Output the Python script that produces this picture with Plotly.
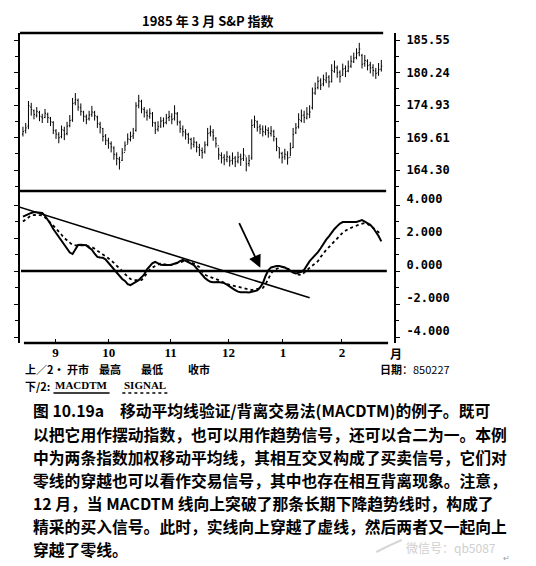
import plotly.graph_objects as go

# ---- data ----
days = list(range(131))

opens = [170.2, 170.8, 171.5, 174.6, 174.0, 173.2, 173.7, 173.0, 172.9, 173.4,
         172.8, 172.1, 170.7, 170.1, 169.8, 170.8, 170.3, 171.6, 172.5, 175.3,
         175.7, 174.5, 173.8, 173.0, 172.7, 173.4, 173.7, 173.0, 171.8, 171.1,
         169.9, 169.1, 168.6, 167.9, 166.8, 166.1, 165.9, 167.2, 168.5, 169.3,
         169.9, 170.8, 174.9, 175.5, 174.2, 173.7, 173.1, 173.5, 172.0, 171.0,
         171.5, 172.4, 172.1, 172.9, 173.0, 172.7, 173.5, 172.1, 171.0, 170.5,
         170.1, 169.3, 168.5, 168.8, 168.0, 167.5, 167.3, 168.5, 170.4, 170.5,
         169.5, 168.3, 166.7, 166.4, 166.0, 166.4, 165.9, 166.3, 165.8, 166.5,
         166.2, 166.6, 165.4, 166.3, 171.7, 172.2, 171.4, 171.0, 170.5, 170.8,
         170.3, 170.6, 169.4, 168.0, 167.0, 166.5, 166.8, 166.4, 168.0, 170.4,
         171.4, 172.4, 173.3, 172.8, 173.4, 174.5, 176.9, 177.8, 178.9, 178.4,
         179.0, 179.5, 178.8, 180.4, 181.0, 180.3, 179.8, 180.9, 180.5, 181.3,
         182.0, 182.7, 183.5, 183.0, 181.7, 182.1, 181.5, 181.1, 180.5, 180.2,
         180.8]
highs = [171.4, 172.0, 175.6, 175.3, 174.2, 174.6, 174.0, 173.5, 174.3, 173.7,
         173.0, 172.3, 171.0, 170.5, 171.6, 171.4, 172.2, 173.3, 176.1, 176.9,
         176.0, 175.2, 174.0, 173.4, 174.0, 174.8, 174.0, 173.2, 172.2, 171.2,
         170.2, 169.6, 169.0, 168.2, 167.2, 166.5, 167.9, 169.0, 170.3, 170.6,
         171.2, 175.4, 176.6, 175.8, 174.6, 174.2, 174.4, 173.8, 172.2, 172.3,
         173.0, 172.9, 173.5, 174.0, 173.6, 174.9, 173.8, 172.4, 171.6, 171.0,
         170.4, 169.6, 169.7, 169.0, 168.6, 168.0, 169.0, 171.2, 171.6, 171.0,
         169.7, 168.0, 167.2, 166.9, 167.4, 166.7, 167.2, 166.6, 167.3, 167.0,
         167.9, 166.4, 166.8, 172.6, 173.2, 172.4, 171.8, 171.6, 171.6, 171.3,
         171.5, 170.9, 169.6, 168.0, 167.3, 167.8, 167.4, 168.8, 171.2, 172.0,
         173.6, 174.2, 174.0, 174.6, 174.9, 177.8, 178.6, 179.6, 179.3, 179.9,
         180.3, 179.8, 181.6, 182.2, 181.4, 180.6, 181.7, 181.4, 182.2, 183.0,
         183.5, 184.2, 185.1, 183.3, 183.1, 182.4, 182.0, 181.6, 181.0, 181.8,
         182.3]
lows = [169.8, 170.3, 171.0, 173.2, 172.6, 172.9, 172.3, 172.0, 172.8, 172.0,
        171.5, 170.2, 169.4, 168.7, 169.5, 169.2, 170.0, 171.3, 172.2, 174.9,
        174.0, 173.2, 172.2, 171.8, 172.4, 173.0, 172.4, 171.2, 170.3, 169.0,
        168.4, 167.8, 167.2, 166.0, 165.1, 164.4, 165.8, 167.4, 168.6, 169.0,
        169.4, 170.6, 174.4, 173.6, 172.9, 172.4, 172.7, 171.4, 170.2, 170.6,
        171.2, 171.3, 171.8, 172.3, 171.8, 172.4, 171.6, 170.4, 169.8, 169.3,
        168.6, 167.7, 168.0, 167.2, 166.6, 166.2, 167.0, 168.2, 169.8, 169.1,
        168.0, 166.0, 165.4, 165.1, 165.6, 164.9, 165.2, 164.8, 165.4, 165.0,
        165.8, 164.1, 164.9, 166.0, 171.2, 170.6, 170.2, 169.8, 170.0, 169.6,
        169.8, 169.0, 167.4, 166.2, 165.4, 166.0, 165.2, 166.6, 167.9, 170.2,
        171.1, 172.1, 172.0, 172.6, 172.8, 174.2, 176.6, 177.5, 177.4, 178.0,
        178.5, 177.8, 178.6, 180.2, 179.4, 178.6, 179.7, 179.5, 180.3, 181.0,
        181.8, 182.4, 182.9, 180.9, 181.2, 180.6, 180.1, 179.6, 179.2, 179.7,
        180.4]
closes = [170.6, 171.2, 174.8, 174.2, 173.4, 173.9, 173.1, 172.8, 173.6, 172.9,
          172.2, 170.8, 170.2, 169.6, 170.9, 170.1, 171.5, 172.4, 175.2, 175.8,
          174.6, 173.9, 173.1, 172.6, 173.3, 173.8, 173.2, 171.9, 171.3, 169.8,
          169.2, 168.7, 168.1, 166.9, 166.2, 165.6, 167.1, 168.3, 169.4, 169.8,
          170.3, 174.8, 175.6, 174.3, 173.8, 173.2, 173.6, 172.1, 170.9, 171.4,
          172.3, 172.0, 172.8, 173.1, 172.6, 173.6, 172.2, 171.1, 170.6, 170.2,
          169.4, 168.6, 168.9, 168.1, 167.6, 167.2, 168.4, 170.3, 170.6, 169.9,
          168.6, 166.8, 166.3, 166.0, 166.5, 165.8, 166.2, 165.7, 166.4, 166.1,
          166.8, 165.3, 165.9, 171.6, 172.4, 171.3, 171.0, 170.6, 170.9, 170.4,
          170.7, 169.8, 168.2, 167.1, 166.4, 166.9, 166.3, 167.8, 170.1, 171.2,
          172.6, 173.2, 172.9, 173.5, 173.8, 176.9, 177.6, 178.8, 178.2, 179.1,
          179.4, 178.7, 180.6, 181.1, 180.2, 179.6, 180.8, 180.4, 181.2, 182.1,
          182.6, 183.4, 184.1, 181.6, 182.2, 181.4, 181.0, 180.6, 180.1, 180.7,
          181.3]

macdtm = [3.30, 3.39, 3.45, 3.52, 3.58, 3.57, 3.55, 3.52, 3.35, 3.12,
          2.85, 2.55, 2.30, 2.05, 1.82, 1.60, 1.35, 1.12, 1.03, 1.30,
          1.58, 1.60, 1.58, 1.56, 1.42, 1.30, 1.05, 0.86, 0.82, 0.80,
          0.70, 0.50, 0.35, 0.15, -0.08, -0.30, -0.48, -0.60, -0.80, -0.85,
          -0.75, -0.68, -0.55, -0.38, -0.20, 0.10, 0.30, 0.48, 0.55, 0.48,
          0.38, 0.36, 0.35, 0.36, 0.40, 0.45, 0.50, 0.60, 0.68, 0.62,
          0.55, 0.45, 0.36, 0.15, -0.05, -0.25, -0.42, -0.55, -0.65, -0.68,
          -0.67, -0.66, -0.70, -0.73, -0.82, -0.95, -1.05, -1.15, -1.25, -1.28,
          -1.27, -1.28, -1.30, -1.27, -1.22, -1.17, -1.00, -0.75, -0.30, 0.05,
          0.22, 0.28, 0.30, 0.30, 0.27, 0.22, 0.12, 0.00, -0.10, -0.15,
          -0.12, -0.05, 0.08, 0.35, 0.60, 0.78, 0.95, 1.15, 1.38, 1.65,
          1.90, 2.10, 2.35, 2.55, 2.72, 2.88, 2.97, 2.98, 2.97, 2.97,
          2.97, 2.97, 3.03, 3.09, 3.00, 2.92, 2.80, 2.62, 2.40, 2.12,
          1.80]
signal = [3.00, 3.10, 3.25, 3.38, 3.40, 3.40, 3.39, 3.38, 3.25, 3.10,
          2.95, 2.75, 2.58, 2.42, 2.20, 2.00, 1.85, 1.70, 1.58, 1.56,
          1.57, 1.58, 1.55, 1.52, 1.48, 1.45, 1.35, 1.22, 1.10, 1.00,
          0.90, 0.78, 0.65, 0.50, 0.32, 0.18, 0.00, -0.18, -0.35, -0.48,
          -0.55, -0.56, -0.56, -0.55, -0.35, -0.12, 0.08, 0.22, 0.32, 0.42,
          0.48, 0.42, 0.38, 0.36, 0.38, 0.42, 0.46, 0.50, 0.58, 0.66,
          0.60, 0.52, 0.45, 0.35, 0.24, 0.00, -0.22, -0.30, -0.36, -0.40,
          -0.48, -0.55, -0.63, -0.72, -0.78, -0.84, -0.88, -0.92, -0.96, -1.02,
          -1.06, -1.10, -1.13, -1.15, -1.12, -1.08, -1.05, -1.03, -0.80, -0.45,
          -0.15, 0.06, 0.15, 0.20, 0.24, 0.22, 0.15, 0.06, -0.05, -0.15,
          -0.22, -0.24, -0.12, 0.05, 0.20, 0.35, 0.48, 0.60, 0.85, 1.09,
          1.28, 1.45, 1.62, 1.75, 1.95, 2.15, 2.33, 2.45, 2.55, 2.62,
          2.67, 2.75, 2.82, 2.88, 2.91, 2.85, 2.75, 2.62, 2.50, 2.35,
          2.20]

trend_day = [-1.1, 104.0]
trend_val = [3.87, -1.62]
zero_day = [-0.7, 132.0]
zero_val = [0, 0]

month_pos = [11.8, 31.1, 53.6, 74.6, 94.3, 115.7]
month_lbl = ["9", "10", "11", "12", "1", "2"]
price_ticks = [164.30, 169.61, 174.93, 180.24, 185.55]
price_lbl = ["164.30", "169.61", "174.93", "180.24", "185.55"]
macd_ticks = [-4, -2, 0, 2, 4]
macd_lbl = ["-4.000", "-2.000", "0.000", "2.000", "4.000"]

caption = [
    "图 10.19a　移动平均线验证/背离交易法(MACDTM)的例子。既可",
    "以把它用作摆动指数，也可以用作趋势信号，还可以合二为一。本例",
    "中为两条指数加权移动平均线，其相互交叉构成了买卖信号，它们对",
    "零线的穿越也可以看作交易信号，其中也存在相互背离现象。注意，",
    "12 月，当 MACDTM 线向上突破了那条长期下降趋势线时，构成了",
    "精采的买入信号。此时，实线向上穿越了虚线，然后两者又一起向上",
    "穿越了零线。",
]

# ---- page geometry: screen pixels, the page body adds an 8px margin ----
W, H = 536, 566
OFF = 8
L, T = 14 - OFF, 33 - OFF
R = W - (394 - OFF)
B = H - (343 - OFF)
def px(x):
    return (x - OFF - L) / (W - L - R)
def py(y):
    return (H - B - (y - OFF)) / (H - T - B)

split = py(191)
cjk = "Noto Sans CJK SC"
serif = "Liberation Serif"
mono = "DejaVu Sans Mono"

fig = go.Figure()

fig.add_trace(go.Ohlc(x=days, open=opens, high=highs, low=lows, close=closes,
                      increasing_line_color="black", decreasing_line_color="black",
                      line_width=1, tickwidth=0.35, xaxis="x", yaxis="y",
                      hoverinfo="skip", showlegend=False))

fig.add_trace(go.Scatter(x=zero_day, y=zero_val, mode="lines", yaxis="y2",
                         line=dict(color="black", width=2.5), showlegend=False))
fig.add_trace(go.Scatter(x=trend_day, y=trend_val, mode="lines", yaxis="y2",
                         line=dict(color="black", width=1.6), showlegend=False))
fig.add_trace(go.Scatter(x=days, y=signal, mode="lines", yaxis="y2",
                         line=dict(color="black", width=1.8, dash="dot"), showlegend=False))
fig.add_trace(go.Scatter(x=days, y=macdtm, mode="lines", yaxis="y2",
                         line=dict(color="black", width=2), showlegend=False))

# borders
shapes = []
for y0, x0, x1 in [(33, 14, 383), (191, 14, 386), (343, 18, 388)]:
    shapes.append(dict(type="line", xref="paper", yref="paper",
                       x0=px(x0), x1=px(x1), y0=py(y0), y1=py(y0),
                       line=dict(color="black", width=2.5)))
# legend underlines
shapes.append(dict(type="line", xref="paper", yref="paper", x0=px(48), x1=px(105),
                   y0=py(393), y1=py(393), line=dict(color="black", width=1.5)))
shapes.append(dict(type="line", xref="paper", yref="paper", x0=px(118), x1=px(164),
                   y0=py(393), y1=py(393), line=dict(color="black", width=1.5, dash="dot")))
# watermark swoosh
shapes.append(dict(type="path", xref="paper", yref="paper",
                   path="M {} {} Q {} {} {} {}".format(px(376), py(552), px(392), py(544),
                                                       px(402), py(540)),
                   line=dict(color="#d6d6d6", width=2)))

ann = []
def text(x, y, s, size=12, font=cjk, anchor="left", color="black", weight="bold"):
    ann.append(dict(xref="paper", yref="paper", x=px(x), y=py(y), text=s,
                    showarrow=False, xanchor=anchor, yanchor="middle",
                    font=dict(family=font, size=size, color=color, weight=weight)))

text(205, 21, "1985 年 3 月 S&P 指数", size=13, anchor="center")
text(396, 353, "月", size=12, anchor="center")
text(17, 369, "上／2· 开市", size=11)
text(92, 369, "最高", size=11)
text(135, 369, "最低", size=11)
text(183, 369, "收市", size=11)
text(378, 369, "日期<span style='font-weight:normal'>：850227</span>", size=11)
text(17, 386, "下/2:", size=11)
text(48, 385, "MACDTM", size=11, font=serif)
text(118, 385, "SIGNAL", size=11, font=serif)
for k, line in enumerate(caption):
    text(25, 411 + 23 * k, line, size=15.8)
text(404, 547, "微信号：qb5087", size=12, color="#cfcfcf", weight="normal")
text(503, 557, "↵", size=8, color="#999999", weight="normal")

ann.append(dict(xref="x", yref="y2", x=86.1, y=0.2, axref="x", ayref="y2",
                ax=78.2, ay=3.0, text="", showarrow=True, arrowhead=2,
                arrowsize=1.4, arrowwidth=1.8, arrowcolor="black"))

tickfont = dict(family=mono, size=12, color="black", weight="bold")
fig.update_layout(
    width=W, height=H,
    margin=dict(l=L, r=R, t=T, b=B),
    paper_bgcolor="white", plot_bgcolor="white",
    showlegend=False,
    shapes=shapes, annotations=ann,
    xaxis=dict(anchor="y2", range=[-1.07, 134.6], showgrid=False, zeroline=False,
               showline=False, rangeslider=dict(visible=False),
               tickvals=month_pos, ticktext=month_lbl, ticks="inside", ticklen=4,
               tickcolor="black",
               tickfont=dict(family=serif, size=13, color="black", weight="bold")),
    yaxis=dict(domain=[split, 1], range=[160.9, 186.7], side="right",
               showgrid=False, zeroline=False, showline=True, linecolor="black",
               linewidth=2, mirror="ticks", ticks="outside", ticklen=4,
               tickcolor="black", tickvals=price_ticks, ticktext=price_lbl,
               minor=dict(ticks="outside", ticklen=3, tickcolor="black",
                          tick0=164.30, dtick=2.65625),
               tickfont=tickfont, ticklabelstandoff=4),
    yaxis2=dict(domain=[0, split], range=[-4.36, 4.85], side="right",
                showgrid=False, zeroline=False, showline=True, linecolor="black",
                linewidth=2, mirror="ticks", ticks="outside", ticklen=4,
                tickcolor="black", tickvals=macd_ticks, ticktext=macd_lbl,
                minor=dict(ticks="outside", ticklen=3, tickcolor="black",
                           tick0=0, dtick=1),
                tickfont=tickfont, ticklabelstandoff=4, ticklabelshift=-6),
)

fig.write_html("out.html")
